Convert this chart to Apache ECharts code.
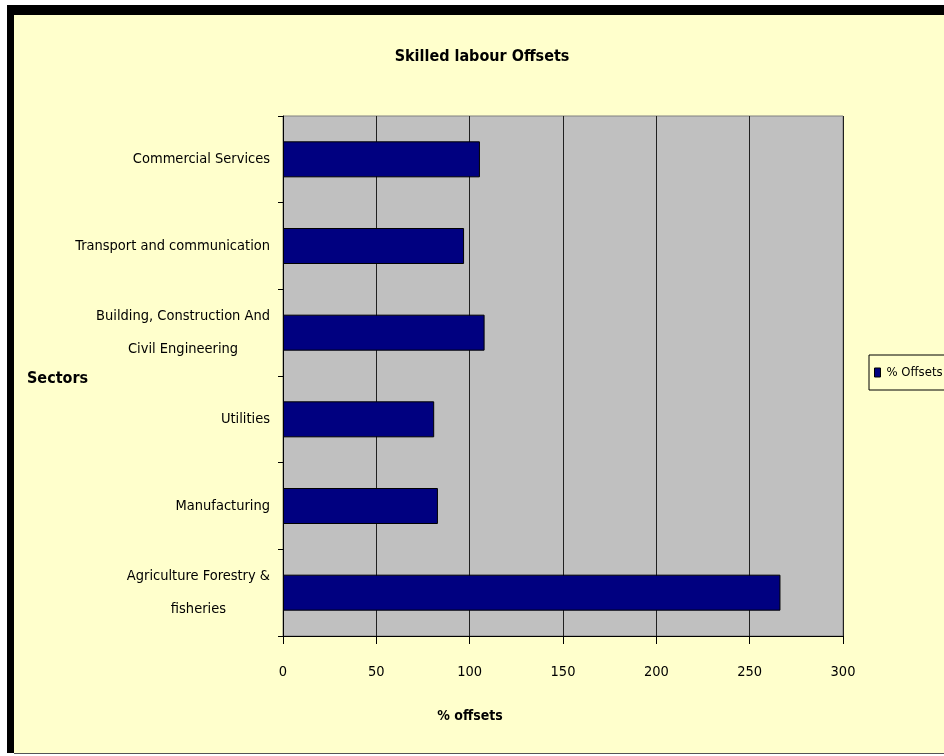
<!DOCTYPE html>
<html>
<head>
<meta charset="utf-8">
<script src="https://cdn.jsdelivr.net/npm/echarts@6/dist/echarts.min.js"></script>
<style>
html,body{margin:0;padding:0;background:#fff;}
#chart{width:944px;height:756px;}
</style>
</head>
<body>
<div id="chart"></div>
<script>
var categories = ['Agriculture Forestry &\nfisheries', 'Manufacturing', 'Utilities', 'Building, Construction And\nCivil Engineering', 'Transport and communication', 'Commercial Services'];
var offsets = [266.5, 83, 81, 108, 97, 105.5];
var xTicks = [0, 50, 100, 150, 200, 250, 300];

var FONT = '"Liberation Sans Narrow", "DejaVu Sans Condensed", sans-serif';
var chart = echarts.init(document.getElementById('chart'));
chart.setOption({
  backgroundColor: '#fff',
  animation: false,
  graphic: [
    {type: 'rect', z: -10, shape: {x: 14, y: 15, width: 930, height: 738}, style: {fill: '#FFFFCC'}},
    {type: 'rect', z: -9, shape: {x: 7, y: 5, width: 937, height: 10}, style: {fill: '#000'}},
    {type: 'rect', z: -9, shape: {x: 7, y: 5, width: 7, height: 748}, style: {fill: '#000'}},
    {type: 'rect', z: -9, shape: {x: 14, y: 753, width: 930, height: 1}, style: {fill: '#555'}},
    {type: 'text', x: 482, y: 57, style: {text: 'Skilled labour Offsets', align: 'center', verticalAlign: 'middle', fontFamily: FONT, fontSize: 16, fontWeight: 'bold', fill: '#000'}},
    {type: 'text', x: 470, y: 716, style: {text: '% offsets', align: 'center', verticalAlign: 'middle', fontFamily: FONT, fontSize: 14, fontWeight: 'bold', fill: '#000'}},
    {type: 'text', x: 27, y: 379, style: {text: 'Sectors', align: 'left', verticalAlign: 'middle', fontFamily: FONT, fontSize: 16, fontWeight: 'bold', fill: '#000'}}
  ],
  legend: {
    left: 869, top: 355,
    padding: [11, 60, 11, 5],
    borderColor: '#000', borderWidth: 1,
    backgroundColor: '#FFFFCC',
    icon: 'rect',
    itemWidth: 6, itemHeight: 9, itemGap: 4,
    textStyle: {fontFamily: FONT, fontSize: 13, color: '#000', padding: [0, 0, 0, 1]},
    data: [{name: '% Offsets', itemStyle: {color: '#000080', borderColor: '#000', borderWidth: 1}}]
  },
  grid: {
    left: 283, right: 101, top: 116, bottom: 120,
    show: true, backgroundColor: '#C0C0C0', borderColor: '#808080', borderWidth: 1,
    containLabel: false
  },
  xAxis: {
    type: 'value', min: 0, max: 300, interval: 50,
    axisLine: {show: true, lineStyle: {color: '#000', width: 1}},
    axisTick: {show: true, length: 8, lineStyle: {color: '#000'}},
    axisLabel: {margin: 29, fontFamily: FONT, fontSize: 14.5, color: '#000',
      formatter: function (v) { return xTicks.indexOf(v) >= 0 ? String(v) : ''; }},
    splitLine: {show: true, lineStyle: {color: '#202020', width: 1}}
  },
  yAxis: {
    type: 'category', data: categories,
    axisLine: {show: true, lineStyle: {color: '#000', width: 1}},
    axisTick: {show: true, length: 5, lineStyle: {color: '#000'}},
    axisLabel: {
      margin: 13, fontFamily: FONT, fontSize: 14.5, color: '#000', align: 'right',
      formatter: function (v) { return v.split('\n').map(function (l) { return '{c|' + l + '}'; }).join('\n'); },
      rich: {c: {align: 'center', fontFamily: FONT, fontSize: 14.5, lineHeight: 33, color: '#000'}}
    },
    splitLine: {show: false}
  },
  series: [{
    name: '% Offsets', type: 'bar', data: offsets, barWidth: 36,
    itemStyle: {color: '#000080', borderColor: '#000', borderWidth: 1}
  }]
});
</script>
</body>
</html>
